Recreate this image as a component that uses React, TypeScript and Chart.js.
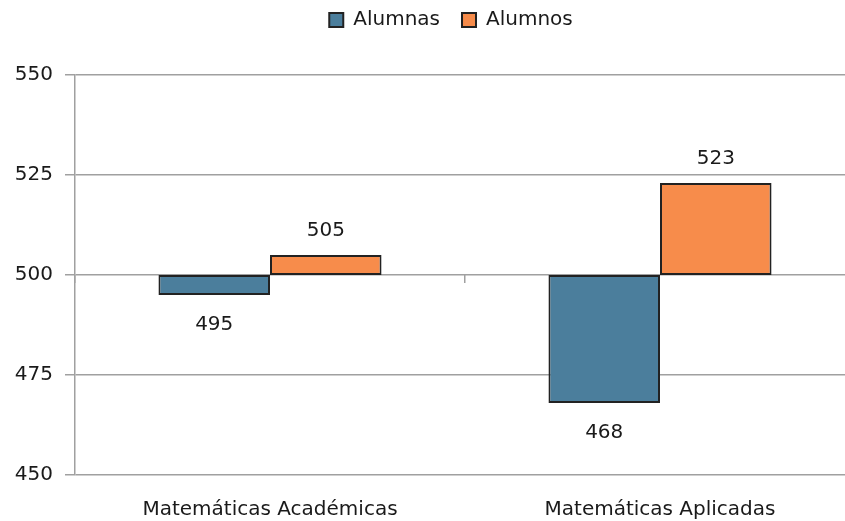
import { useEffect, useRef } from 'react';
import { Chart, registerables } from 'chart.js';

Chart.register(...registerables);

const categories = ['Matemáticas Académicas', 'Matemáticas Aplicadas'];
const seriesNames = ['Alumnas', 'Alumnos'];
const alumnas = [495, 468];
const alumnos = [505, 523];
const BASE = 500;
const yMin = 450;
const yMax = 550;
const yStep = 25;

const GRID = '#a0a0a0';
const TEXT = '#1a1a1a';
const BLUE = '#4b7e9c';
const ORANGE = '#f78c4b';
const EDGE = '#222222';

const valueLabels = {
  id: 'valueLabels',
  afterDatasetsDraw(chart: any) {
    const { ctx } = chart;
    const yScale = chart.scales.y;
    ctx.save();
    ctx.font = '20px "DejaVu Sans"';
    ctx.fillStyle = TEXT;
    ctx.textAlign = 'center';
    ctx.textBaseline = 'middle';
    chart.data.datasets.forEach((ds: any, di: number) => {
      const meta = chart.getDatasetMeta(di);
      meta.data.forEach((el: any, i: number) => {
        const v = ds.data[i][1];
        const py = yScale.getPixelForValue(v);
        const ty = v < BASE ? py + 30 : py - 24;
        ctx.fillText(String(v), el.x, ty);
      });
    });
    ctx.restore();
  },
};

export default function App() {
  const ref = useRef<HTMLCanvasElement>(null);

  useEffect(() => {
    Chart.defaults.font.family = '"DejaVu Sans", sans-serif';
    Chart.defaults.font.size = 20;
    Chart.defaults.color = TEXT;
    const chart = new Chart(ref.current as HTMLCanvasElement, {
      type: 'bar',
      data: {
        labels: categories,
        datasets: [
          {
            label: seriesNames[0],
            data: alumnas.map((v) => [BASE, v]) as any,
            backgroundColor: BLUE,
            borderColor: EDGE,
            borderWidth: 2,
            borderSkipped: false,
            barPercentage: 1,
            categoryPercentage: 0.572,
          },
          {
            label: seriesNames[1],
            data: alumnos.map((v) => [BASE, v]) as any,
            backgroundColor: ORANGE,
            borderColor: EDGE,
            borderWidth: 2,
            borderSkipped: false,
            barPercentage: 1,
            categoryPercentage: 0.572,
          },
        ],
      },
      options: {
        responsive: false,
        animation: false,
        layout: { padding: { top: -12, left: 0, right: 0, bottom: 0 } },
        plugins: {
          legend: {
            position: 'top',
            labels: {
              boxWidth: 14,
              boxHeight: 14,
              padding: 22,
              color: TEXT,
              font: { size: 20 },
            },
          },
          title: {
            display: true,
            text: '',
            weight: 500,
            padding: { top: 0, bottom: 11 },
            font: { size: 20, lineHeight: 1.2 },
          } as any,
          tooltip: { enabled: false },
        },
        scales: {
          x: {
            offset: true,
            grid: { display: false, drawTicks: false, tickLength: 0 },
            border: { display: false },
            ticks: {
              padding: 23,
              color: TEXT,
              font: { size: 20 },
              maxRotation: 0,
              autoSkip: false,
            },
            afterFit: (s: any) => {
              s.height = 46;
            },
          },
          x2: {
            type: 'category',
            axis: 'x',
            position: { y: BASE } as any,
            offset: true,
            labels: categories,
            grid: {
              offset: true,
              drawOnChartArea: false,
              drawTicks: true,
              tickLength: 8,
              color: GRID,
              lineWidth: 1.5,
            },
            border: { display: false },
            ticks: { display: false },
            afterFit: (s: any) => {
              s.height = 0;
            },
          } as any,
          y: {
            min: yMin,
            max: yMax,
            ticks: { stepSize: yStep, padding: 12, color: TEXT, font: { size: 20 } },
            grid: { color: GRID, lineWidth: 1.5, tickLength: 10 },
            border: { color: GRID, width: 1.5 },
            afterFit: (s: any) => {
              s.width = 75;
            },
          },
          yR: {
            type: 'linear',
            position: 'right',
            display: true,
            grid: { display: false },
            border: { display: false },
            ticks: { display: false },
            afterFit: (s: any) => {
              s.width = 47;
            },
          },
        },
      },
      plugins: [valueLabels],
    });
    return () => chart.destroy();
  }, []);

  return (
    <div
      style={{
        position: 'fixed',
        left: 0,
        top: 0,
        width: 845,
        height: 521,
        overflow: 'hidden',
        background: '#ffffff',
      }}
    >
      <canvas ref={ref} width={902} height={521} style={{ display: 'block' }} />
    </div>
  );
}
